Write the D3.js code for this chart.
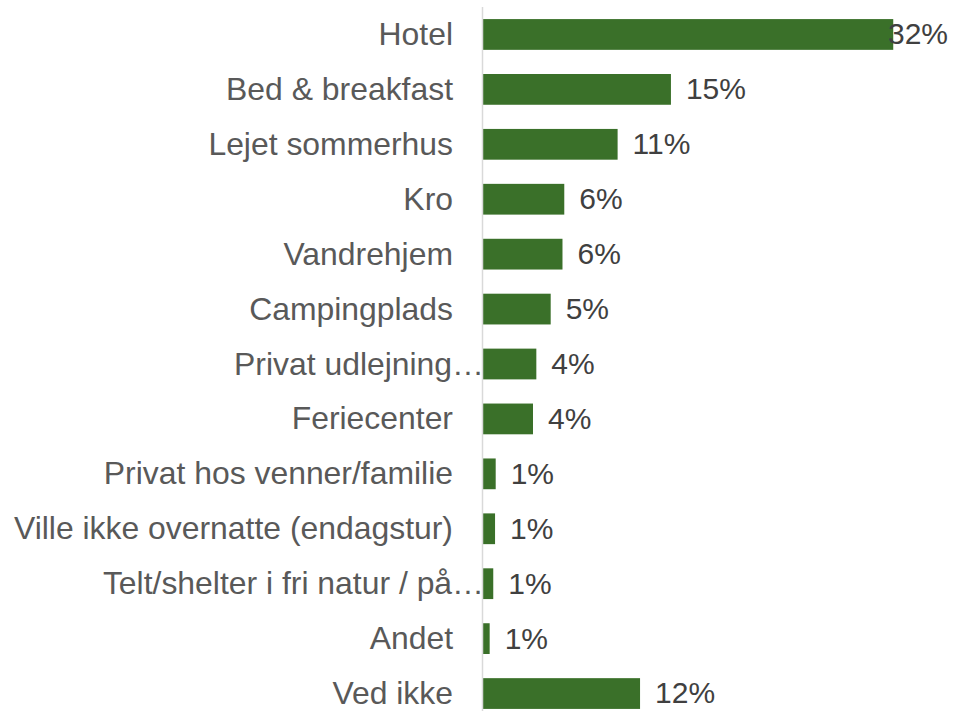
<!DOCTYPE html>
<html>
<head>
<meta charset="utf-8">
<script src="https://cdn.jsdelivr.net/npm/d3@7"></script>
<style>
  html, body { margin: 0; padding: 0; background: #ffffff; }
  svg { display: block; }
</style>
</head>
<body>
<svg id="chart" width="953" height="711"></svg>
<script>
const categories = [
  "Hotel",
  "Bed & breakfast",
  "Lejet sommerhus",
  "Kro",
  "Vandrehjem",
  "Campingplads",
  "Privat udlejning…",
  "Feriecenter",
  "Privat hos venner/familie",
  "Ville ikke overnatte (endagstur)",
  "Telt/shelter i fri natur / på…",
  "Andet",
  "Ved ikke"
];
const values = [0.320, 0.1466, 0.105, 0.0634, 0.062, 0.0528, 0.0416, 0.039, 0.0099, 0.0094, 0.0080, 0.0052, 0.1225];

const W = 953, H = 711;
const svg = d3.select("#chart");

const x = d3.scaleLinear().domain([0, 0.35]).range([483, 483 + 0.35 * 1282]);
const y = d3.scaleBand().domain(categories).range([7, 721]).paddingInner(0.44).paddingOuter(0.22);

const data = categories.map((c, i) => ({ c, v: values[i] }));

// bars
svg.append("g").selectAll("rect").data(data).join("rect")
  .attr("x", x(0))
  .attr("y", d => y(d.c))
  .attr("width", d => x(d.v) - x(0))
  .attr("height", y.bandwidth())
  .attr("fill", "#3a7029");

// vertical axis line
svg.append("line")
  .attr("x1", 482.5).attr("x2", 482.5)
  .attr("y1", 7).attr("y2", H)
  .attr("stroke", "#d9d9d9").attr("stroke-width", 1.5);

// category labels
const yAxis = d3.axisLeft(y).tickSize(0).tickPadding(0);
const ga = svg.append("g").attr("transform", "translate(453,0)").call(yAxis);
ga.select(".domain").remove();
ga.selectAll("text")
  .attr("font-family", "'Liberation Sans', Arial, sans-serif")
  .attr("font-size", 31.9)
  .attr("fill", "#595959")
  .attr("dy", "0.33em")
  .attr("x", d => d.endsWith("…") ? 31 : 0);

// data labels
const fmt = d3.format(".0%");
svg.append("g").selectAll("text").data(data).join("text")
  .attr("x", d => x(d.v) + 15)
  .attr("y", d => y(d.c) + y.bandwidth() / 2)
  .attr("dy", "0.33em")
  .attr("font-family", "'Liberation Sans', Arial, sans-serif")
  .attr("font-size", 30)
  .attr("fill", "#404040")
  .text(d => fmt(d.v))
  .each(function() {
    const t = d3.select(this);
    const w = this.getComputedTextLength();
    const x0 = +t.attr("x");
    if (x0 + w > W - 5) t.attr("x", W - 5 - w);
  });
</script>
</body>
</html>
